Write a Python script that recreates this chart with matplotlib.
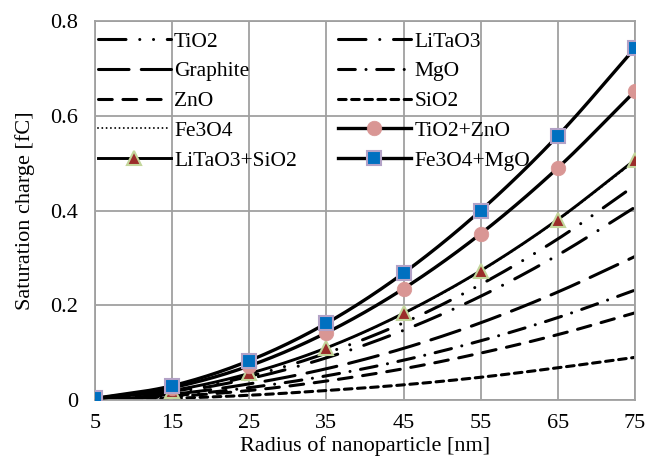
import numpy as np
import matplotlib.pyplot as plt
from matplotlib.lines import Line2D

plt.rcParams['font.family'] = ['Liberation Serif', 'DejaVu Serif']

radius = [5, 15, 25, 35, 45, 55, 65, 75]  # nm

# saturation charge [fC]
tio2 = [0.002, 0.018, 0.050, 0.099, 0.163, 0.244, 0.340, 0.453]
litao3 = [0.0018, 0.016, 0.045, 0.089, 0.147, 0.219, 0.306, 0.407]
graphite = [0.0013, 0.012, 0.034, 0.066, 0.109, 0.163, 0.228, 0.303]
mgo = [0.001, 0.009, 0.026, 0.051, 0.084, 0.125, 0.174, 0.232]
zno = [0.0008, 0.0074, 0.020, 0.040, 0.066, 0.099, 0.138, 0.184]
sio2 = [0.0004, 0.0036, 0.010, 0.020, 0.032, 0.048, 0.068, 0.090]
fe3o4 = [0.0023, 0.020, 0.056, 0.110, 0.182, 0.272, 0.380, 0.505]
tio2_zno = [0.0029, 0.026, 0.072, 0.142, 0.235, 0.351, 0.490, 0.652]
litao3_sio2 = [0.0023, 0.020, 0.056, 0.110, 0.183, 0.273, 0.381, 0.507]
fe3o4_mgo = [0.0033, 0.030, 0.083, 0.162, 0.268, 0.400, 0.558, 0.743]


def smooth(x, y, n=20):
    # Catmull-Rom curve through the points, like a smoothed spreadsheet line
    x = np.asarray(x, float)
    y = np.asarray(y, float)
    px = np.concatenate([[2*x[0]-x[1]], x, [2*x[-1]-x[-2]]])
    py = np.concatenate([[2*y[0]-y[1]], y, [2*y[-1]-y[-2]]])
    xs, ys = [], []
    t = np.linspace(0, 1, n, endpoint=False)
    for i in range(1, len(px)-2):
        for p, out in ((px, xs), (py, ys)):
            p0, p1, p2, p3 = p[i-1], p[i], p[i+1], p[i+2]
            out.extend(0.5*((2*p1) + (-p0+p2)*t + (2*p0-5*p1+4*p2-p3)*t**2
                            + (-p0+3*p1-3*p2+p3)*t**3))
    xs.append(x[-1])
    ys.append(y[-1])
    return np.array(xs), np.array(ys)


lw = 2.2
styles = {
    'TiO2': (tio2, dict(lw=lw, ls=(0, (9, 4.5, 0.01, 4.5, 0.01, 4.5)))),
    'Graphite': (graphite, dict(lw=lw, ls=(0, (10, 4)))),
    'ZnO': (zno, dict(lw=lw, ls=(0, (4.5, 3.5)))),
    'Fe3O4': (fe3o4, dict(lw=1.4, ls=(0, (0.01, 2.2)))),
    'LiTaO3': (litao3, dict(lw=lw, ls=(0, (9, 4.5, 0.01, 4.5)))),
    'MgO': (mgo, dict(lw=lw, ls=(0, (5.5, 3.5, 0.01, 3.5)))),
    'SiO2': (sio2, dict(lw=lw, ls=(0, (2.5, 1.8)))),
}

fig = plt.figure(figsize=(6.61, 4.65), dpi=100)
ax = fig.add_axes([0.1437, 0.1398, 0.8170, 0.8150])

handles = {}
for name, (vals, kw) in styles.items():
    sx, sy = smooth(radius, vals)
    ax.plot(sx, sy, color='black', dash_capstyle='round', **kw)
    handles[name] = Line2D([], [], color='black', dash_capstyle='round', **kw)

combos = [
    ('LiTaO3+SiO2', litao3_sio2, dict(marker='^', ms=9.5, mfc='#9B2D2A', mec='#C3D69B', mew=1.5), 2.1),
    ('TiO2+ZnO', tio2_zno, dict(marker='o', ms=10.5, mfc='#D99694', mec='#D99694', mew=0.5), 2.4),
    ('Fe3O4+MgO', fe3o4_mgo, dict(marker='s', ms=9.5, mfc='#0070C0', mec='#B3A2C7', mew=1.5), 2.4),
]
for name, vals, mk, w in combos:
    sx, sy = smooth(radius, vals)
    ax.plot(sx, sy, color='black', lw=w, zorder=3)
    ax.plot(radius, vals, ls='none', zorder=4, **mk)
    handles[name] = Line2D([], [], color='black', lw=w, **mk)

ax.set_xlim(5, 75)
ax.set_ylim(0, 0.8)
ax.set_xticks(radius)
ax.set_yticks([0, 0.2, 0.4, 0.6, 0.8])
ax.set_yticklabels(['0', '0.2', '0.4', '0.6', '0.8'])
ax.tick_params(length=0, labelsize=16)
ax.tick_params('x', pad=10)
ax.tick_params('y', pad=12)
ax.grid(color='#A0A0A0', lw=1.3)
ax.set_axisbelow(True)
for s in ax.spines.values():
    s.set_color('#A0A0A0')
    s.set_linewidth(1.3)

ax.set_xlabel('Radius of nanoparticle [nm]', fontsize=16, labelpad=2)
ax.set_ylabel('Saturation charge [fC]', fontsize=16, labelpad=11)

order = ['TiO2', 'Graphite', 'ZnO', 'Fe3O4', 'LiTaO3+SiO2',
         'LiTaO3', 'MgO', 'SiO2', 'TiO2+ZnO', 'Fe3O4+MgO']
ax.legend([handles[k] for k in order], order, ncol=2, loc='upper left',
          bbox_to_anchor=(0.005, 0.972), frameon=False, fontsize=15.5,
          handlelength=3.4, handletextpad=0.15, columnspacing=1.9,
          labelspacing=0.45, borderaxespad=0, borderpad=0)

fig.savefig('out.png', dpi=100)
